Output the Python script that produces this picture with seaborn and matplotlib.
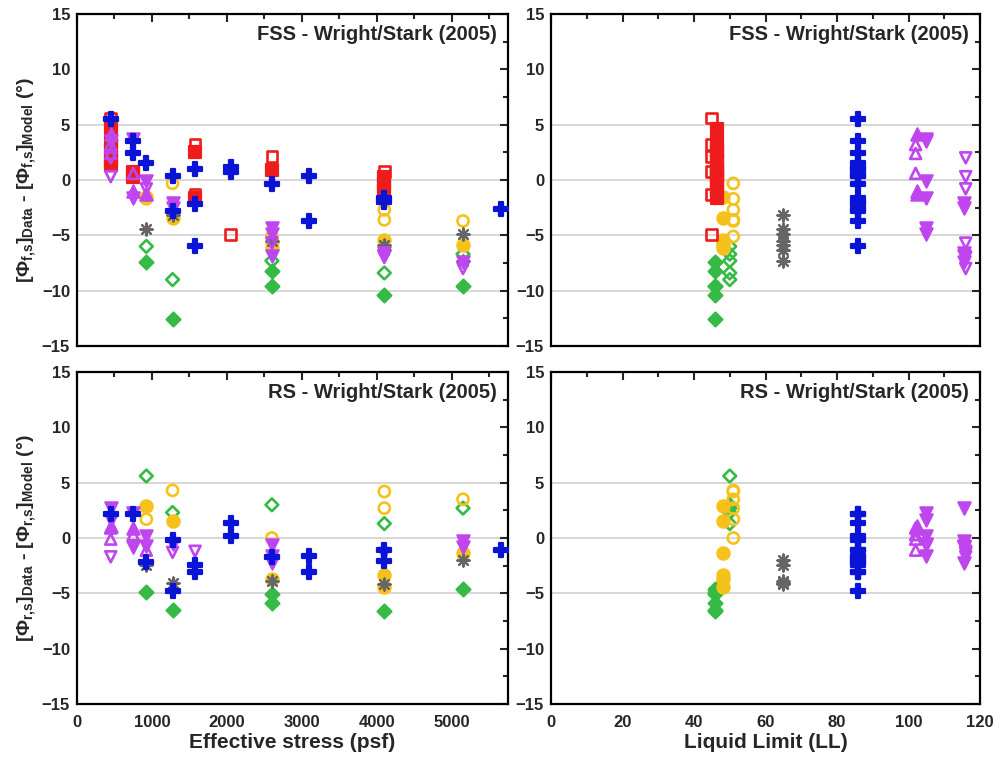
import matplotlib
matplotlib.use('Agg')
import matplotlib.pyplot as plt
from matplotlib.ticker import MultipleLocator
import seaborn as sns
import pandas as pd

# ---- FSS residuals vs effective stress (psf) ----
fss_red_open_x = [450, 1575, 1575, 2050, 2600, 4100]
fss_red_open_y = [5.6, 3.2, -1.3, -4.9, 2.1, 0.8]
fss_red_fill_x = [450, 450, 450, 450, 450, 750, 750, 1575, 1575, 2600, 4100, 4100, 4100]
fss_red_fill_y = [4.6, 3.4, 2.6, 1.8, 1.4, 0.7, 0.3, 2.5, -1.6, 0.9, 0.3, -0.4, -0.9]
fss_blue_x = [450, 750, 750, 925, 1275, 1275, 1575, 1575, 1575, 2050, 2050, 2600, 3100, 3100, 4100, 4100, 5650]
fss_blue_y = [5.5, 3.5, 2.4, 1.5, 0.4, -2.8, 1.0, -2.2, -6.0, 1.2, 0.7, -0.4, 0.4, -3.7, -1.6, -2.0, -2.6]
fss_yel_open_x = [925, 1275, 2600, 4100, 4100, 5150]
fss_yel_open_y = [-1.7, -0.3, -5.1, -2.7, -3.6, -3.7]
fss_yel_fill_x = [925, 1275, 2600, 2600, 4100, 5150]
fss_yel_fill_y = [-1.5, -3.4, -5.6, -6.1, -5.4, -5.9]
fss_grn_open_x = [925, 1275, 2600, 4100, 5150]
fss_grn_open_y = [-6.0, -9.0, -7.3, -8.4, -6.7]
fss_grn_fill_x = [925, 1275, 2600, 2600, 4100, 5150]
fss_grn_fill_y = [-7.4, -12.6, -8.2, -9.6, -10.4, -9.6]
fss_gray_x = [925, 1275, 2600, 4100, 4100, 5150, 5150]
fss_gray_y = [-4.4, -3.2, -5.5, -6.3, -5.9, -4.9, -7.3]
fss_pup_open_x = [450, 450, 750]
fss_pup_open_y = [3.2, 2.4, 0.6]
fss_pup_fill_x = [750, 925, 450]
fss_pup_fill_y = [-1.0, -1.3, 4.2]
fss_pdn_fill_a_x = [750, 450, 925, 750, 2600, 2600]
fss_pdn_fill_a_y = [3.7, 3.5, -0.1, -1.6, -4.3, -4.9]
fss_pdn_open_x = [450, 450, 925, 2600, 4100, 5150]
fss_pdn_open_y = [2.0, 0.3, -0.8, -5.7, -7.0, -8.0]
fss_pdn_fill_b_x = [1275, 1275, 2600, 4100, 5150]
fss_pdn_fill_b_y = [-2.1, -2.5, -6.9, -6.6, -7.4]

# ---- RS residuals vs effective stress (psf) ----
rs_blue_x = [450, 750, 925, 1275, 1275, 1575, 1575, 2050, 2050, 2600, 3100, 3100, 4100, 4100, 5650]
rs_blue_y = [2.2, 2.2, -2.2, -0.2, -4.8, -2.4, -3.1, 1.4, 0.2, -1.7, -1.6, -3.1, -1.1, -2.1, -1.1]
rs_yel_open_x = [925, 1275, 2600, 4100, 4100, 5150]
rs_yel_open_y = [1.7, 4.3, 0.0, 4.2, 2.7, 3.5]
rs_yel_fill_x = [925, 1275, 2600, 4100, 4100, 5150]
rs_yel_fill_y = [2.9, 1.5, -3.7, -3.3, -4.4, -1.4]
rs_grn_open_x = [925, 1275, 2600, 4100, 5150]
rs_grn_open_y = [5.6, 2.3, 3.0, 1.3, 2.7]
rs_grn_fill_x = [925, 1275, 2600, 2600, 4100, 5150]
rs_grn_fill_y = [-4.9, -6.5, -5.1, -5.9, -6.6, -4.6]
rs_gray_x = [925, 1275, 2600, 4100, 5150]
rs_gray_y = [-2.4, -4.1, -3.9, -4.2, -2.0]
rs_pup_open_x = [450, 450, 750, 925]
rs_pup_open_y = [0.9, -0.1, 0.3, -1.1]
rs_pup_fill_x = [750, 450]
rs_pup_fill_y = [0.9, 1.1]
rs_pdn_fill_a_x = [750, 1275, 925, 2600, 2600, 450]
rs_pdn_fill_a_y = [2.3, -0.5, 0.2, -0.6, -1.6, 1.6]
rs_pdn_open_x = [450, 1275, 1575, 4100]
rs_pdn_open_y = [-1.7, -1.3, -1.2, -1.4]
rs_pdn_fill_b_x = [450, 925, 2600, 5150, 5150, 750]
rs_pdn_fill_b_y = [2.7, -0.7, -2.3, -0.3, -0.8, -0.8]

# liquid limit of each soil
ll_red_open, ll_red_fill = 45, 46.3
ll_blue = 86
ll_yel_open, ll_yel_fill = 51, 48
ll_grn_open, ll_grn_fill = 50, 46
ll_gray = 65
ll_pup_open, ll_pup_fill = 102, 102.5
ll_pdn_fill_a = 105
ll_pdn_open, ll_pdn_fill_b = 116, 115.5

RED = '#ee1c1c'
BLUE = '#0a14d6'
YEL = '#f5c21b'
GRN = '#35bb45'
GRAY = '#666666'
PUR = '#bf45ef'

# (color, marker, filled, size, LL, fss x, fss y, rs x, rs y)
series = [
    (GRN, 'D', True, 50, ll_grn_fill, fss_grn_fill_x, fss_grn_fill_y, rs_grn_fill_x, rs_grn_fill_y),
    (GRN, 'D', False, 42, ll_grn_open, fss_grn_open_x, fss_grn_open_y, rs_grn_open_x, rs_grn_open_y),
    (YEL, 'o', True, 78, ll_yel_fill, fss_yel_fill_x, fss_yel_fill_y, rs_yel_fill_x, rs_yel_fill_y),
    (YEL, 'o', False, 64, ll_yel_open, fss_yel_open_x, fss_yel_open_y, rs_yel_open_x, rs_yel_open_y),
    (GRAY, (8, 2, 0), True, 75, ll_gray, fss_gray_x, fss_gray_y, rs_gray_x, rs_gray_y),
    (RED, 's', True, 72, ll_red_fill, fss_red_fill_x, fss_red_fill_y, [], []),
    (RED, 's', False, 60, ll_red_open, fss_red_open_x, fss_red_open_y, [], []),
    (PUR, '^', False, 62, ll_pup_open, fss_pup_open_x, fss_pup_open_y, rs_pup_open_x, rs_pup_open_y),
    (PUR, '^', True, 78, ll_pup_fill, fss_pup_fill_x, fss_pup_fill_y, rs_pup_fill_x, rs_pup_fill_y),
    (PUR, 'v', True, 78, ll_pdn_fill_a, fss_pdn_fill_a_x, fss_pdn_fill_a_y, rs_pdn_fill_a_x, rs_pdn_fill_a_y),
    (PUR, 'v', False, 62, ll_pdn_open, fss_pdn_open_x, fss_pdn_open_y, rs_pdn_open_x, rs_pdn_open_y),
    (PUR, 'v', True, 78, ll_pdn_fill_b, fss_pdn_fill_b_x, fss_pdn_fill_b_y, rs_pdn_fill_b_x, rs_pdn_fill_b_y),
    (BLUE, 'P', True, 88, ll_blue, fss_blue_x, fss_blue_y, rs_blue_x, rs_blue_y),
]

sns.set_theme(style='white')
plt.rcParams['font.family'] = ['Liberation Sans', 'DejaVu Sans']
plt.rcParams['mathtext.fontset'] = 'custom'
plt.rcParams['mathtext.rm'] = 'Liberation Sans'
plt.rcParams['mathtext.bf'] = 'Liberation Sans:bold'
plt.rcParams['mathtext.it'] = 'Liberation Sans:italic'

fig = plt.figure(figsize=(9.98, 7.64), dpi=100)
W, H = 998, 764


def px_axes(x0, y0, x1, y1):
    return fig.add_axes([x0 / W, 1 - y1 / H, (x1 - x0) / W, (y1 - y0) / H])


ax_tl = px_axes(77, 14, 508, 346)
ax_tr = px_axes(551, 14, 980, 346)
ax_bl = px_axes(77, 372, 508, 704)
ax_br = px_axes(551, 372, 980, 704)


def draw(ax, xs, ys, color, marker, filled, size):
    if len(xs) == 0:
        return
    df = pd.DataFrame({'x': xs, 'y': ys})
    lw = 1.6 if filled else 1.9
    sns.scatterplot(data=df, x='x', y='y', ax=ax, color=color, marker=marker, s=size,
                    edgecolor=color, linewidth=lw, legend=False, zorder=3)
    if not filled:
        ax.collections[-1].set_facecolor('none')


for c, m, f, s, ll, fx, fy, rx, ry in series:
    draw(ax_tl, fx, fy, c, m, f, s)
    draw(ax_tr, [ll] * len(fy), fy, c, m, f, s)
    draw(ax_bl, rx, ry, c, m, f, s)
    draw(ax_br, [ll] * len(ry), ry, c, m, f, s)

grid_top = [5, 0, -5, -10]
grid_bot = [5, 0, -5]

for ax in [ax_tl, ax_tr, ax_bl, ax_br]:
    ax.set_ylim(-15, 15)
    ax.yaxis.set_major_locator(MultipleLocator(5))
    ax.yaxis.set_minor_locator(MultipleLocator(2.5))
    ax.tick_params(which='both', direction='in', top=True, right=True, width=1.5,
                   labelsize=12, pad=5)
    ax.tick_params(axis='x', which='both', pad=8)
    ax.tick_params(which='major', length=6)
    ax.tick_params(which='minor', length=3.5)
    for sp in ax.spines.values():
        sp.set_linewidth(1.6)
        sp.set_color('black')
    ax.set_xlabel('')
    ax.set_ylabel('')

for ax in [ax_tl, ax_bl]:
    ax.set_xlim(0, 5750)
    ax.xaxis.set_major_locator(MultipleLocator(1000))
    ax.xaxis.set_minor_locator(MultipleLocator(500))
for ax in [ax_tr, ax_br]:
    ax.set_xlim(0, 120)
    ax.xaxis.set_major_locator(MultipleLocator(20))
    ax.xaxis.set_minor_locator(MultipleLocator(10))

for ax in [ax_tl, ax_tr]:
    for g in grid_top:
        ax.axhline(g, color='#d4d4d4', lw=1.3, zorder=0)
    ax.tick_params(labelbottom=False)
    ax.text(0.975, 0.937, 'FSS - Wright/Stark (2005)', transform=ax.transAxes,
            ha='right', va='center', fontsize=14.5, fontweight='bold', zorder=5)
for ax in [ax_bl, ax_br]:
    for g in grid_bot:
        ax.axhline(g, color='#d4d4d4', lw=1.3, zorder=0)
    ax.text(0.975, 0.937, 'RS - Wright/Stark (2005)', transform=ax.transAxes,
            ha='right', va='center', fontsize=14.5, fontweight='bold', zorder=5)

for ax in [ax_tl, ax_tr, ax_bl, ax_br]:
    for lab in ax.get_xticklabels() + ax.get_yticklabels():
        lab.set_fontweight('bold')

ax_tl.set_ylabel(r'$\mathbf{[\Phi_{f{,}s}]_{Data}}$ - $\mathbf{[\Phi_{f{,}s}]_{Model}}$ (°)',
                 fontsize=14, fontweight='bold')
ax_bl.set_ylabel(r'$\mathbf{[\Phi_{r{,}s}]_{Data}}$ - $\mathbf{[\Phi_{r{,}s}]_{Model}}$ (°)',
                 fontsize=14, fontweight='bold')
ax_tl.yaxis.set_label_coords(-0.09, 0.5)
ax_bl.yaxis.set_label_coords(-0.09, 0.5)

ax_bl.set_xlabel('Effective stress (psf)', fontsize=15, fontweight='bold', labelpad=2)
ax_br.set_xlabel('Liquid Limit (LL)', fontsize=15, fontweight='bold', labelpad=2)

fig.savefig('out.png', dpi=100)
